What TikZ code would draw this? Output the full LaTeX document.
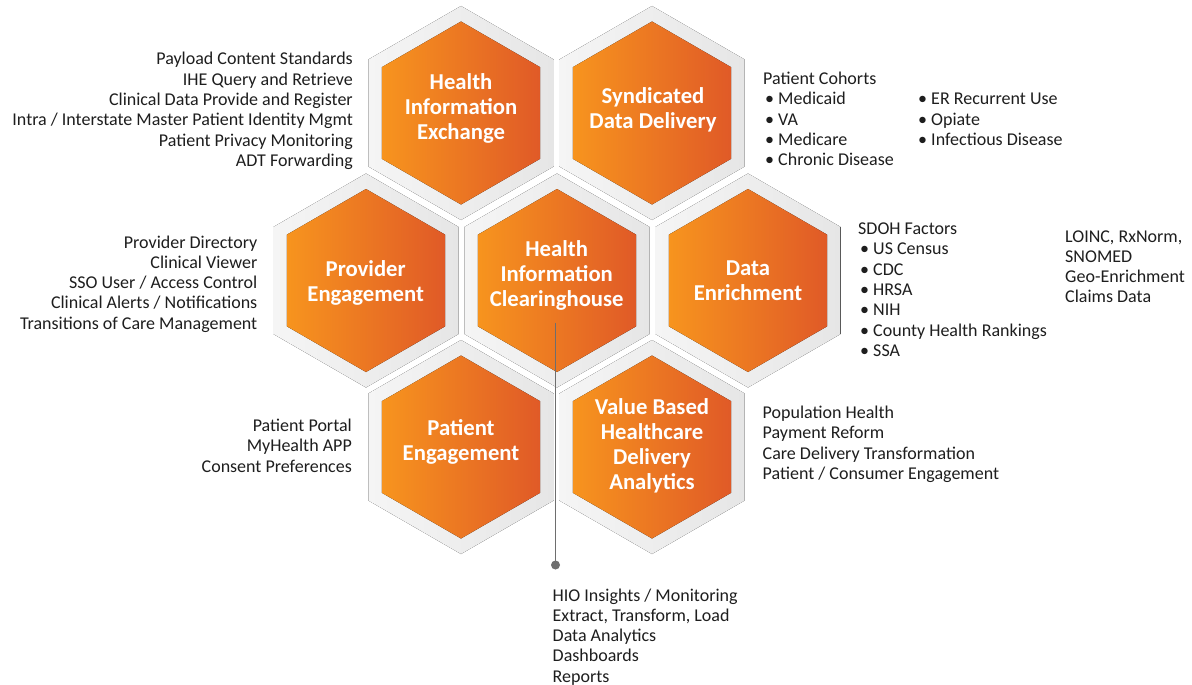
\documentclass[tikz,border=0pt]{standalone}
\usepackage{fontspec}
\setmainfont{Carlito}
\definecolor{orL}{HTML}{F7941E}
\definecolor{orR}{HTML}{E05A27}
\definecolor{frL}{HTML}{F5F5F5}
\definecolor{frR}{HTML}{E6E6E6}
\definecolor{txt}{HTML}{1E1E1E}
\definecolor{lnk}{HTML}{6E6E6E}
\tikzset{
  framehex/.style={left color=frL, right color=frR},
  corehex/.style={left color=orL, right color=orR},
  lab/.style={text=white, font=\fontsize{22.7}{25}\selectfont\bfseries, anchor=base, inner sep=0pt},
  bodyR/.style={text=txt, font=\fontsize{18}{20.3}\selectfont, anchor=base east, inner sep=0pt},
  bodyL/.style={text=txt, font=\fontsize{18}{20.3}\selectfont, anchor=base west, inner sep=0pt},
  linkline/.style={draw=lnk, line width=1.4pt},
}
\newcommand\hexcell[3]{%
  \coordinate (#1) at (#2,#3);
  \fill[framehex, shift={(#2,#3)}] (90:107) -- (150:107) -- (210:107) -- (270:107) -- (330:107) -- (30:107) -- cycle;
  \fill[corehex, shift={(#2,#3)}] (90:91.5) -- (150:91.5) -- (210:91.5) -- (270:91.5) -- (330:91.5) -- (30:91.5) -- cycle;
}
\newcommand\bl{\hspace{2pt}\textbullet\ }
\begin{document}
\begin{tikzpicture}[x=1pt,y=-1pt]
\useasboundingbox[fill=white] (0,0) rectangle (1192,685);
% hexagons
\hexcell{hie}{461}{113}
\hexcell{syn}{652}{113}
\hexcell{prov}{366}{280.5}
\hexcell{chl}{557}{280.5}
\hexcell{enr}{748}{280.5}
\hexcell{pat}{461}{447}
\hexcell{vbh}{652}{447}
% labels
\node[lab] (hieL) at (461,89.3) {\begin{tabular}[t]{@{}c@{}}Health\\Information\\Exchange\end{tabular}};
\node[lab] (synL) at (653,103.5) {\begin{tabular}[t]{@{}c@{}}Syndicated\\Data Delivery\end{tabular}};
\node[lab] (provL) at (365.7,276.5) {\begin{tabular}[t]{@{}c@{}}Provider\\Engagement\end{tabular}};
\node[lab] (chlL) at (556.7,256) {\begin{tabular}[t]{@{}c@{}}Health\\Information\\Clearinghouse\end{tabular}};
\node[lab] (enrL) at (748,275.5) {\begin{tabular}[t]{@{}c@{}}Data\\Enrichment\end{tabular}};
\node[lab] (patL) at (461,435.5) {\begin{tabular}[t]{@{}c@{}}Patient\\Engagement\end{tabular}};
\node[lab] (vbhL) at (652,414.5) {\begin{tabular}[t]{@{}c@{}}Value Based\\Healthcare\\Delivery\\Analytics\end{tabular}};
% connector
\coordinate (chTop) at (555.5,323);
\coordinate (chDot) at (555.5,565);
\draw[linkline] (chTop) -- (chDot);
\fill[lnk] (chDot) circle (4.5);
% text blocks
\node[bodyR] (hieT) at (353,65) {\begin{tabular}[t]{@{}r@{}}Payload Content Standards\\IHE Query and Retrieve\\Clinical Data Provide and Register\\Intra / Interstate Master Patient Identity Mgmt\\Patient Privacy Monitoring\\ADT Forwarding\end{tabular}};
\node[bodyL] (synT) at (763,84.5) {\begin{tabular}[t]{@{}l@{}}Patient Cohorts\\\bl Medicaid\\\bl VA\\\bl Medicare\\\bl Chronic Disease\end{tabular}};
\node[bodyL] (synT2) at (916,104.8) {\begin{tabular}[t]{@{}l@{}}\bl ER Recurrent Use\\\bl Opiate\\\bl Infectious Disease\end{tabular}};
\node[bodyR] (provT) at (257.5,248) {\begin{tabular}[t]{@{}r@{}}Provider Directory\\Clinical Viewer\\SSO User / Access Control\\Clinical Alerts / Notifications\\Transitions of Care Management\end{tabular}};
\node[bodyL] (enrT) at (858,234.5) {\begin{tabular}[t]{@{}l@{}}SDOH Factors\\\bl US Census\\\bl CDC\\\bl HRSA\\\bl NIH\\\bl County Health Rankings\\\bl SSA\end{tabular}};
\node[bodyL] (enrT2) at (1065,242) {\begin{tabular}[t]{@{}l@{}}LOINC, RxNorm,\\SNOMED\\Geo-Enrichment\\Claims Data\end{tabular}};
\node[bodyR] (patT) at (352,431.5) {\begin{tabular}[t]{@{}r@{}}Patient Portal\\MyHealth APP\\Consent Preferences\end{tabular}};
\node[bodyL] (vbhT) at (762.5,418.5) {\begin{tabular}[t]{@{}l@{}}Population Health\\Payment Reform\\Care Delivery Transformation\\Patient / Consumer Engagement\end{tabular}};
\node[bodyL] (chlT) at (552.5,601) {\begin{tabular}[t]{@{}l@{}}HIO Insights / Monitoring\\Extract, Transform, Load\\Data Analytics\\Dashboards\\Reports\end{tabular}};
\end{tikzpicture}
\end{document}
